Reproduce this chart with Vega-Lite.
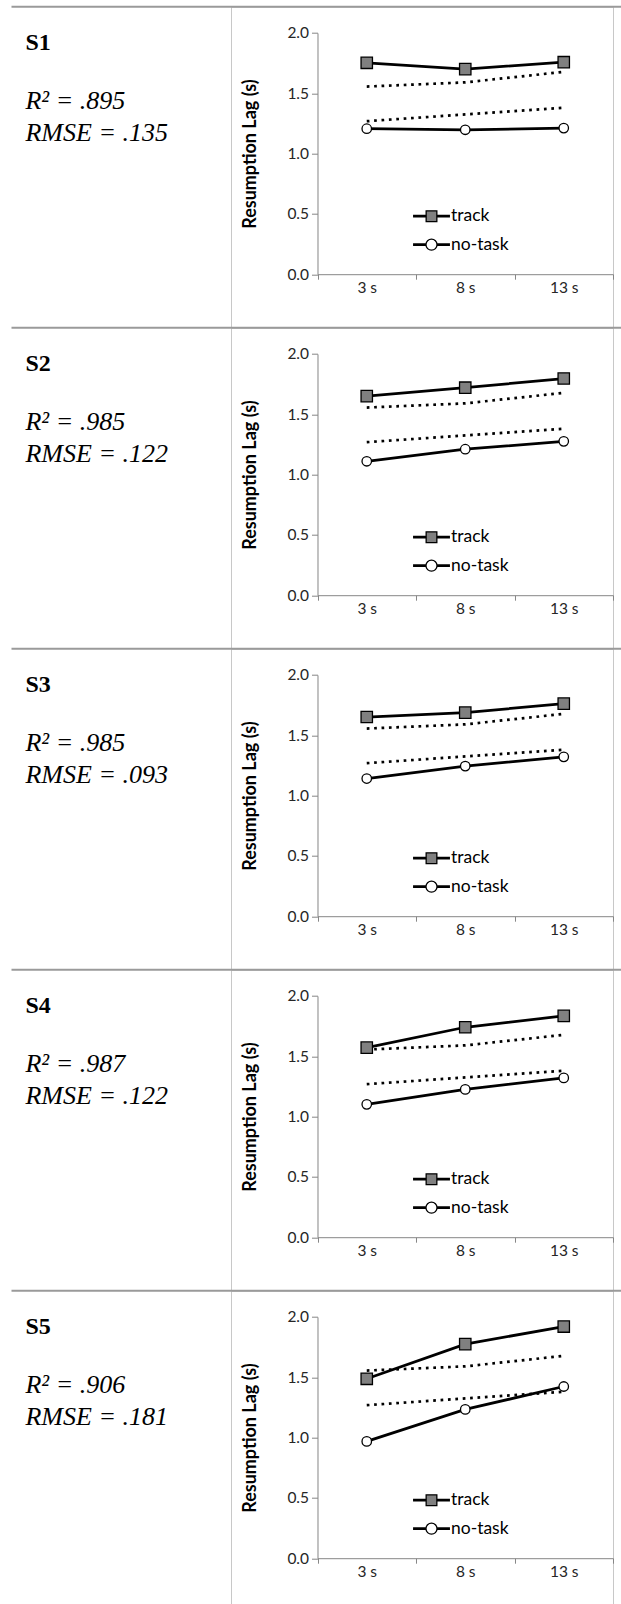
{
  "$schema": "https://vega.github.io/schema/vega-lite/v6.json",
  "background": "white",
  "padding": {"left": 10, "top": 4.7, "right": 0, "bottom": 0},
  "bounds": "flush",
  "spacing": 0,
  "resolve": {"scale": {"shape": "independent", "fill": "independent"}, "legend": {"shape": "independent", "fill": "independent"}},
  "config": {
    "view": {"stroke": "#c8c8c8", "strokeWidth": 1},
    "axis": {"labelFont": "Lato", "labelFontSize": 15.5, "labelColor": "#262626", "domainColor": "#868686", "tickColor": "#868686", "grid": false, "titleFont": "Lato", "titleFontSize": 18, "titleFontWeight": "bold", "titleColor": "#000000"},
    "legend": {"title": null, "orient": "none", "legendX": 182, "legendY": 191, "padding": 0, "symbolSize": 1267, "symbolStrokeWidth": 1.3, "labelFont": "Lato", "labelFontSize": 17.5, "labelColor": "#000000", "labelOffset": 1, "rowPadding": 1.5},
    "title": {"anchor": "start", "frame": "group", "orient": "top", "dx": -205.5, "offset": -140, "font": "Liberation Serif", "fontSize": 24, "fontWeight": "bold", "color": "#000000", "subtitleFont": "Liberation Serif", "subtitleFontSize": 26, "subtitleFontStyle": "italic", "subtitleColor": "#000000", "subtitleLineHeight": 32, "subtitlePadding": 33}
  },
  "datasets": {
    "sep": [{"k": 1}],
    "model": [
      {"delay": "3 s", "condition": "track", "lag": 1.555},
      {"delay": "8 s", "condition": "track", "lag": 1.59},
      {"delay": "13 s", "condition": "track", "lag": 1.677},
      {"delay": "3 s", "condition": "no-task", "lag": 1.268},
      {"delay": "8 s", "condition": "no-task", "lag": 1.324},
      {"delay": "13 s", "condition": "no-task", "lag": 1.38}
    ],
    "obs": [
      {"subject": "S1", "delay": "3 s", "condition": "track", "lag": 1.752},
      {"subject": "S1", "delay": "8 s", "condition": "track", "lag": 1.70},
      {"subject": "S1", "delay": "13 s", "condition": "track", "lag": 1.757},
      {"subject": "S1", "delay": "3 s", "condition": "no-task", "lag": 1.206},
      {"subject": "S1", "delay": "8 s", "condition": "no-task", "lag": 1.197},
      {"subject": "S1", "delay": "13 s", "condition": "no-task", "lag": 1.211},
      {"subject": "S2", "delay": "3 s", "condition": "track", "lag": 1.65},
      {"subject": "S2", "delay": "8 s", "condition": "track", "lag": 1.72},
      {"subject": "S2", "delay": "13 s", "condition": "track", "lag": 1.796},
      {"subject": "S2", "delay": "3 s", "condition": "no-task", "lag": 1.11},
      {"subject": "S2", "delay": "8 s", "condition": "no-task", "lag": 1.21},
      {"subject": "S2", "delay": "13 s", "condition": "no-task", "lag": 1.275},
      {"subject": "S3", "delay": "3 s", "condition": "track", "lag": 1.651},
      {"subject": "S3", "delay": "8 s", "condition": "track", "lag": 1.687},
      {"subject": "S3", "delay": "13 s", "condition": "track", "lag": 1.762},
      {"subject": "S3", "delay": "3 s", "condition": "no-task", "lag": 1.141},
      {"subject": "S3", "delay": "8 s", "condition": "no-task", "lag": 1.244},
      {"subject": "S3", "delay": "13 s", "condition": "no-task", "lag": 1.321},
      {"subject": "S4", "delay": "3 s", "condition": "track", "lag": 1.571},
      {"subject": "S4", "delay": "8 s", "condition": "track", "lag": 1.74},
      {"subject": "S4", "delay": "13 s", "condition": "track", "lag": 1.834},
      {"subject": "S4", "delay": "3 s", "condition": "no-task", "lag": 1.101},
      {"subject": "S4", "delay": "8 s", "condition": "no-task", "lag": 1.225},
      {"subject": "S4", "delay": "13 s", "condition": "no-task", "lag": 1.32},
      {"subject": "S5", "delay": "3 s", "condition": "track", "lag": 1.487},
      {"subject": "S5", "delay": "8 s", "condition": "track", "lag": 1.774},
      {"subject": "S5", "delay": "13 s", "condition": "track", "lag": 1.92},
      {"subject": "S5", "delay": "3 s", "condition": "no-task", "lag": 0.968},
      {"subject": "S5", "delay": "8 s", "condition": "no-task", "lag": 1.233},
      {"subject": "S5", "delay": "13 s", "condition": "no-task", "lag": 1.423}
    ]
  },
  "vconcat": [
    {
      "width": 382, "height": 320.6,
      "title": {"text": "S1", "subtitle": ["R² = .895", "RMSE = .135"]},
      "resolve": {"scale": {"x": "independent", "y": "independent"}},
      "layer": [
        {"data": {"name": "sep"}, "mark": {"type": "rule", "color": "#9a9a9a", "strokeWidth": 2},
         "encoding": {"x": {"datum": 0, "type": "quantitative", "scale": {"domain": [0, 1], "range": [-219.5, 390.5], "nice": false}, "axis": null}, "x2": {"datum": 1}, "y": {"datum": 0, "type": "quantitative", "scale": {"domain": [0, 1], "range": [0, 1], "nice": false}, "axis": null}}},
        {
          "encoding": {
            "x": {"field": "delay", "type": "nominal", "scale": {"domain": ["3 s", "8 s", "13 s"], "range": [86.5, 382], "paddingInner": 0, "paddingOuter": 0}, "axis": {"title": null, "labelAngle": 0, "tickBand": "extent", "offset": -53.1, "tickSize": 5, "labelPadding": 1}},
            "y": {"field": "lag", "type": "quantitative", "scale": {"domain": [0, 2], "range": [267.5, 26.2], "nice": false}, "axis": {"values": [0, 0.5, 1, 1.5, 2], "format": ".1f", "offset": -86.5, "tickSize": 6, "labelPadding": 3, "title": "Resumption Lag (s)", "titlePadding": 27.5}}
          },
          "layer": [
            {"data": {"name": "model"}, "mark": {"type": "line", "color": "#000000", "strokeWidth": 2.7, "strokeDash": [2.7, 4.7]}, "encoding": {"detail": {"field": "condition"}}},
            {"data": {"name": "obs"}, "transform": [{"filter": "datum.subject === 'S1'"}], "mark": {"type": "line", "color": "#000000", "strokeWidth": 2.75}, "encoding": {"detail": {"field": "condition"}}},
            {"data": {"name": "obs"}, "transform": [{"filter": "datum.subject === 'S1'"}], "mark": {"type": "point", "filled": true, "stroke": "#000000", "strokeWidth": 1.3, "opacity": 1},
             "encoding": {
               "shape": {"condition": {"test": "datum.condition === 'track'", "value": "square"}, "value": "circle"},
               "fill": {"condition": {"test": "datum.condition === 'track'", "value": "#808080"}, "value": "#ffffff"},
               "size": {"condition": {"test": "datum.condition === 'track'", "value": 130}, "value": 90}
             }},
            {"data": {"name": "obs"}, "transform": [{"filter": "false"}], "mark": {"type": "point", "filled": true, "stroke": "#000000", "strokeWidth": 1.3, "opacity": 1},
             "encoding": {
               "shape": {"field": "condition", "type": "nominal", "scale": {"domain": ["track", "no-task"], "range": ["M-1,-0.04H-0.3V0.04H-1Z M0.3,-0.04H1V0.04H0.3Z M-0.3,-0.3H0.3V0.3H-0.3Z", "M-1,-0.04H-0.31V0.04H-1Z M0.31,-0.04H1V0.04H0.31Z M-0.31,0A0.31,0.31 0 1,0 0.31,0A0.31,0.31 0 1,0 -0.31,0Z"]}},
               "fill": {"field": "condition", "type": "nominal", "scale": {"domain": ["track", "no-task"], "range": ["#808080", "#ffffff"]}}
             }}
          ]
        }
      ]
    },
    {
      "width": 382, "height": 320.6,
      "title": {"text": "S2", "subtitle": ["R² = .985", "RMSE = .122"]},
      "resolve": {"scale": {"x": "independent", "y": "independent"}},
      "layer": [
        {"data": {"name": "sep"}, "mark": {"type": "rule", "color": "#9a9a9a", "strokeWidth": 2},
         "encoding": {"x": {"datum": 0, "type": "quantitative", "scale": {"domain": [0, 1], "range": [-219.5, 390.5], "nice": false}, "axis": null}, "x2": {"datum": 1}, "y": {"datum": 0, "type": "quantitative", "scale": {"domain": [0, 1], "range": [0, 1], "nice": false}, "axis": null}}},
        {
          "encoding": {
            "x": {"field": "delay", "type": "nominal", "scale": {"domain": ["3 s", "8 s", "13 s"], "range": [86.5, 382], "paddingInner": 0, "paddingOuter": 0}, "axis": {"title": null, "labelAngle": 0, "tickBand": "extent", "offset": -53.1, "tickSize": 5, "labelPadding": 1}},
            "y": {"field": "lag", "type": "quantitative", "scale": {"domain": [0, 2], "range": [267.5, 26.2], "nice": false}, "axis": {"values": [0, 0.5, 1, 1.5, 2], "format": ".1f", "offset": -86.5, "tickSize": 6, "labelPadding": 3, "title": "Resumption Lag (s)", "titlePadding": 27.5}}
          },
          "layer": [
            {"data": {"name": "model"}, "mark": {"type": "line", "color": "#000000", "strokeWidth": 2.7, "strokeDash": [2.7, 4.7]}, "encoding": {"detail": {"field": "condition"}}},
            {"data": {"name": "obs"}, "transform": [{"filter": "datum.subject === 'S2'"}], "mark": {"type": "line", "color": "#000000", "strokeWidth": 2.75}, "encoding": {"detail": {"field": "condition"}}},
            {"data": {"name": "obs"}, "transform": [{"filter": "datum.subject === 'S2'"}], "mark": {"type": "point", "filled": true, "stroke": "#000000", "strokeWidth": 1.3, "opacity": 1},
             "encoding": {
               "shape": {"condition": {"test": "datum.condition === 'track'", "value": "square"}, "value": "circle"},
               "fill": {"condition": {"test": "datum.condition === 'track'", "value": "#808080"}, "value": "#ffffff"},
               "size": {"condition": {"test": "datum.condition === 'track'", "value": 130}, "value": 90}
             }},
            {"data": {"name": "obs"}, "transform": [{"filter": "false"}], "mark": {"type": "point", "filled": true, "stroke": "#000000", "strokeWidth": 1.3, "opacity": 1},
             "encoding": {
               "shape": {"field": "condition", "type": "nominal", "scale": {"domain": ["track", "no-task"], "range": ["M-1,-0.04H-0.3V0.04H-1Z M0.3,-0.04H1V0.04H0.3Z M-0.3,-0.3H0.3V0.3H-0.3Z", "M-1,-0.04H-0.31V0.04H-1Z M0.31,-0.04H1V0.04H0.31Z M-0.31,0A0.31,0.31 0 1,0 0.31,0A0.31,0.31 0 1,0 -0.31,0Z"]}},
               "fill": {"field": "condition", "type": "nominal", "scale": {"domain": ["track", "no-task"], "range": ["#808080", "#ffffff"]}}
             }}
          ]
        }
      ]
    },
    {
      "width": 382, "height": 320.6,
      "title": {"text": "S3", "subtitle": ["R² = .985", "RMSE = .093"]},
      "resolve": {"scale": {"x": "independent", "y": "independent"}},
      "layer": [
        {"data": {"name": "sep"}, "mark": {"type": "rule", "color": "#9a9a9a", "strokeWidth": 2},
         "encoding": {"x": {"datum": 0, "type": "quantitative", "scale": {"domain": [0, 1], "range": [-219.5, 390.5], "nice": false}, "axis": null}, "x2": {"datum": 1}, "y": {"datum": 0, "type": "quantitative", "scale": {"domain": [0, 1], "range": [0, 1], "nice": false}, "axis": null}}},
        {
          "encoding": {
            "x": {"field": "delay", "type": "nominal", "scale": {"domain": ["3 s", "8 s", "13 s"], "range": [86.5, 382], "paddingInner": 0, "paddingOuter": 0}, "axis": {"title": null, "labelAngle": 0, "tickBand": "extent", "offset": -53.1, "tickSize": 5, "labelPadding": 1}},
            "y": {"field": "lag", "type": "quantitative", "scale": {"domain": [0, 2], "range": [267.5, 26.2], "nice": false}, "axis": {"values": [0, 0.5, 1, 1.5, 2], "format": ".1f", "offset": -86.5, "tickSize": 6, "labelPadding": 3, "title": "Resumption Lag (s)", "titlePadding": 27.5}}
          },
          "layer": [
            {"data": {"name": "model"}, "mark": {"type": "line", "color": "#000000", "strokeWidth": 2.7, "strokeDash": [2.7, 4.7]}, "encoding": {"detail": {"field": "condition"}}},
            {"data": {"name": "obs"}, "transform": [{"filter": "datum.subject === 'S3'"}], "mark": {"type": "line", "color": "#000000", "strokeWidth": 2.75}, "encoding": {"detail": {"field": "condition"}}},
            {"data": {"name": "obs"}, "transform": [{"filter": "datum.subject === 'S3'"}], "mark": {"type": "point", "filled": true, "stroke": "#000000", "strokeWidth": 1.3, "opacity": 1},
             "encoding": {
               "shape": {"condition": {"test": "datum.condition === 'track'", "value": "square"}, "value": "circle"},
               "fill": {"condition": {"test": "datum.condition === 'track'", "value": "#808080"}, "value": "#ffffff"},
               "size": {"condition": {"test": "datum.condition === 'track'", "value": 130}, "value": 90}
             }},
            {"data": {"name": "obs"}, "transform": [{"filter": "false"}], "mark": {"type": "point", "filled": true, "stroke": "#000000", "strokeWidth": 1.3, "opacity": 1},
             "encoding": {
               "shape": {"field": "condition", "type": "nominal", "scale": {"domain": ["track", "no-task"], "range": ["M-1,-0.04H-0.3V0.04H-1Z M0.3,-0.04H1V0.04H0.3Z M-0.3,-0.3H0.3V0.3H-0.3Z", "M-1,-0.04H-0.31V0.04H-1Z M0.31,-0.04H1V0.04H0.31Z M-0.31,0A0.31,0.31 0 1,0 0.31,0A0.31,0.31 0 1,0 -0.31,0Z"]}},
               "fill": {"field": "condition", "type": "nominal", "scale": {"domain": ["track", "no-task"], "range": ["#808080", "#ffffff"]}}
             }}
          ]
        }
      ]
    },
    {
      "width": 382, "height": 320.6,
      "title": {"text": "S4", "subtitle": ["R² = .987", "RMSE = .122"]},
      "resolve": {"scale": {"x": "independent", "y": "independent"}},
      "layer": [
        {"data": {"name": "sep"}, "mark": {"type": "rule", "color": "#9a9a9a", "strokeWidth": 2},
         "encoding": {"x": {"datum": 0, "type": "quantitative", "scale": {"domain": [0, 1], "range": [-219.5, 390.5], "nice": false}, "axis": null}, "x2": {"datum": 1}, "y": {"datum": 0, "type": "quantitative", "scale": {"domain": [0, 1], "range": [0, 1], "nice": false}, "axis": null}}},
        {
          "encoding": {
            "x": {"field": "delay", "type": "nominal", "scale": {"domain": ["3 s", "8 s", "13 s"], "range": [86.5, 382], "paddingInner": 0, "paddingOuter": 0}, "axis": {"title": null, "labelAngle": 0, "tickBand": "extent", "offset": -53.1, "tickSize": 5, "labelPadding": 1}},
            "y": {"field": "lag", "type": "quantitative", "scale": {"domain": [0, 2], "range": [267.5, 26.2], "nice": false}, "axis": {"values": [0, 0.5, 1, 1.5, 2], "format": ".1f", "offset": -86.5, "tickSize": 6, "labelPadding": 3, "title": "Resumption Lag (s)", "titlePadding": 27.5}}
          },
          "layer": [
            {"data": {"name": "model"}, "mark": {"type": "line", "color": "#000000", "strokeWidth": 2.7, "strokeDash": [2.7, 4.7]}, "encoding": {"detail": {"field": "condition"}}},
            {"data": {"name": "obs"}, "transform": [{"filter": "datum.subject === 'S4'"}], "mark": {"type": "line", "color": "#000000", "strokeWidth": 2.75}, "encoding": {"detail": {"field": "condition"}}},
            {"data": {"name": "obs"}, "transform": [{"filter": "datum.subject === 'S4'"}], "mark": {"type": "point", "filled": true, "stroke": "#000000", "strokeWidth": 1.3, "opacity": 1},
             "encoding": {
               "shape": {"condition": {"test": "datum.condition === 'track'", "value": "square"}, "value": "circle"},
               "fill": {"condition": {"test": "datum.condition === 'track'", "value": "#808080"}, "value": "#ffffff"},
               "size": {"condition": {"test": "datum.condition === 'track'", "value": 130}, "value": 90}
             }},
            {"data": {"name": "obs"}, "transform": [{"filter": "false"}], "mark": {"type": "point", "filled": true, "stroke": "#000000", "strokeWidth": 1.3, "opacity": 1},
             "encoding": {
               "shape": {"field": "condition", "type": "nominal", "scale": {"domain": ["track", "no-task"], "range": ["M-1,-0.04H-0.3V0.04H-1Z M0.3,-0.04H1V0.04H0.3Z M-0.3,-0.3H0.3V0.3H-0.3Z", "M-1,-0.04H-0.31V0.04H-1Z M0.31,-0.04H1V0.04H0.31Z M-0.31,0A0.31,0.31 0 1,0 0.31,0A0.31,0.31 0 1,0 -0.31,0Z"]}},
               "fill": {"field": "condition", "type": "nominal", "scale": {"domain": ["track", "no-task"], "range": ["#808080", "#ffffff"]}}
             }}
          ]
        }
      ]
    },
    {
      "width": 382, "height": 320.6,
      "title": {"text": "S5", "subtitle": ["R² = .906", "RMSE = .181"]},
      "resolve": {"scale": {"x": "independent", "y": "independent"}},
      "layer": [
        {"data": {"name": "sep"}, "mark": {"type": "rule", "color": "#9a9a9a", "strokeWidth": 2},
         "encoding": {"x": {"datum": 0, "type": "quantitative", "scale": {"domain": [0, 1], "range": [-219.5, 390.5], "nice": false}, "axis": null}, "x2": {"datum": 1}, "y": {"datum": 0, "type": "quantitative", "scale": {"domain": [0, 1], "range": [0, 1], "nice": false}, "axis": null}}},
        {
          "encoding": {
            "x": {"field": "delay", "type": "nominal", "scale": {"domain": ["3 s", "8 s", "13 s"], "range": [86.5, 382], "paddingInner": 0, "paddingOuter": 0}, "axis": {"title": null, "labelAngle": 0, "tickBand": "extent", "offset": -53.1, "tickSize": 5, "labelPadding": 1}},
            "y": {"field": "lag", "type": "quantitative", "scale": {"domain": [0, 2], "range": [267.5, 26.2], "nice": false}, "axis": {"values": [0, 0.5, 1, 1.5, 2], "format": ".1f", "offset": -86.5, "tickSize": 6, "labelPadding": 3, "title": "Resumption Lag (s)", "titlePadding": 27.5}}
          },
          "layer": [
            {"data": {"name": "model"}, "mark": {"type": "line", "color": "#000000", "strokeWidth": 2.7, "strokeDash": [2.7, 4.7]}, "encoding": {"detail": {"field": "condition"}}},
            {"data": {"name": "obs"}, "transform": [{"filter": "datum.subject === 'S5'"}], "mark": {"type": "line", "color": "#000000", "strokeWidth": 2.75}, "encoding": {"detail": {"field": "condition"}}},
            {"data": {"name": "obs"}, "transform": [{"filter": "datum.subject === 'S5'"}], "mark": {"type": "point", "filled": true, "stroke": "#000000", "strokeWidth": 1.3, "opacity": 1},
             "encoding": {
               "shape": {"condition": {"test": "datum.condition === 'track'", "value": "square"}, "value": "circle"},
               "fill": {"condition": {"test": "datum.condition === 'track'", "value": "#808080"}, "value": "#ffffff"},
               "size": {"condition": {"test": "datum.condition === 'track'", "value": 130}, "value": 90}
             }},
            {"data": {"name": "obs"}, "transform": [{"filter": "false"}], "mark": {"type": "point", "filled": true, "stroke": "#000000", "strokeWidth": 1.3, "opacity": 1},
             "encoding": {
               "shape": {"field": "condition", "type": "nominal", "scale": {"domain": ["track", "no-task"], "range": ["M-1,-0.04H-0.3V0.04H-1Z M0.3,-0.04H1V0.04H0.3Z M-0.3,-0.3H0.3V0.3H-0.3Z", "M-1,-0.04H-0.31V0.04H-1Z M0.31,-0.04H1V0.04H0.31Z M-0.31,0A0.31,0.31 0 1,0 0.31,0A0.31,0.31 0 1,0 -0.31,0Z"]}},
               "fill": {"field": "condition", "type": "nominal", "scale": {"domain": ["track", "no-task"], "range": ["#808080", "#ffffff"]}}
             }}
          ]
        }
      ]
    }
  ]
}
